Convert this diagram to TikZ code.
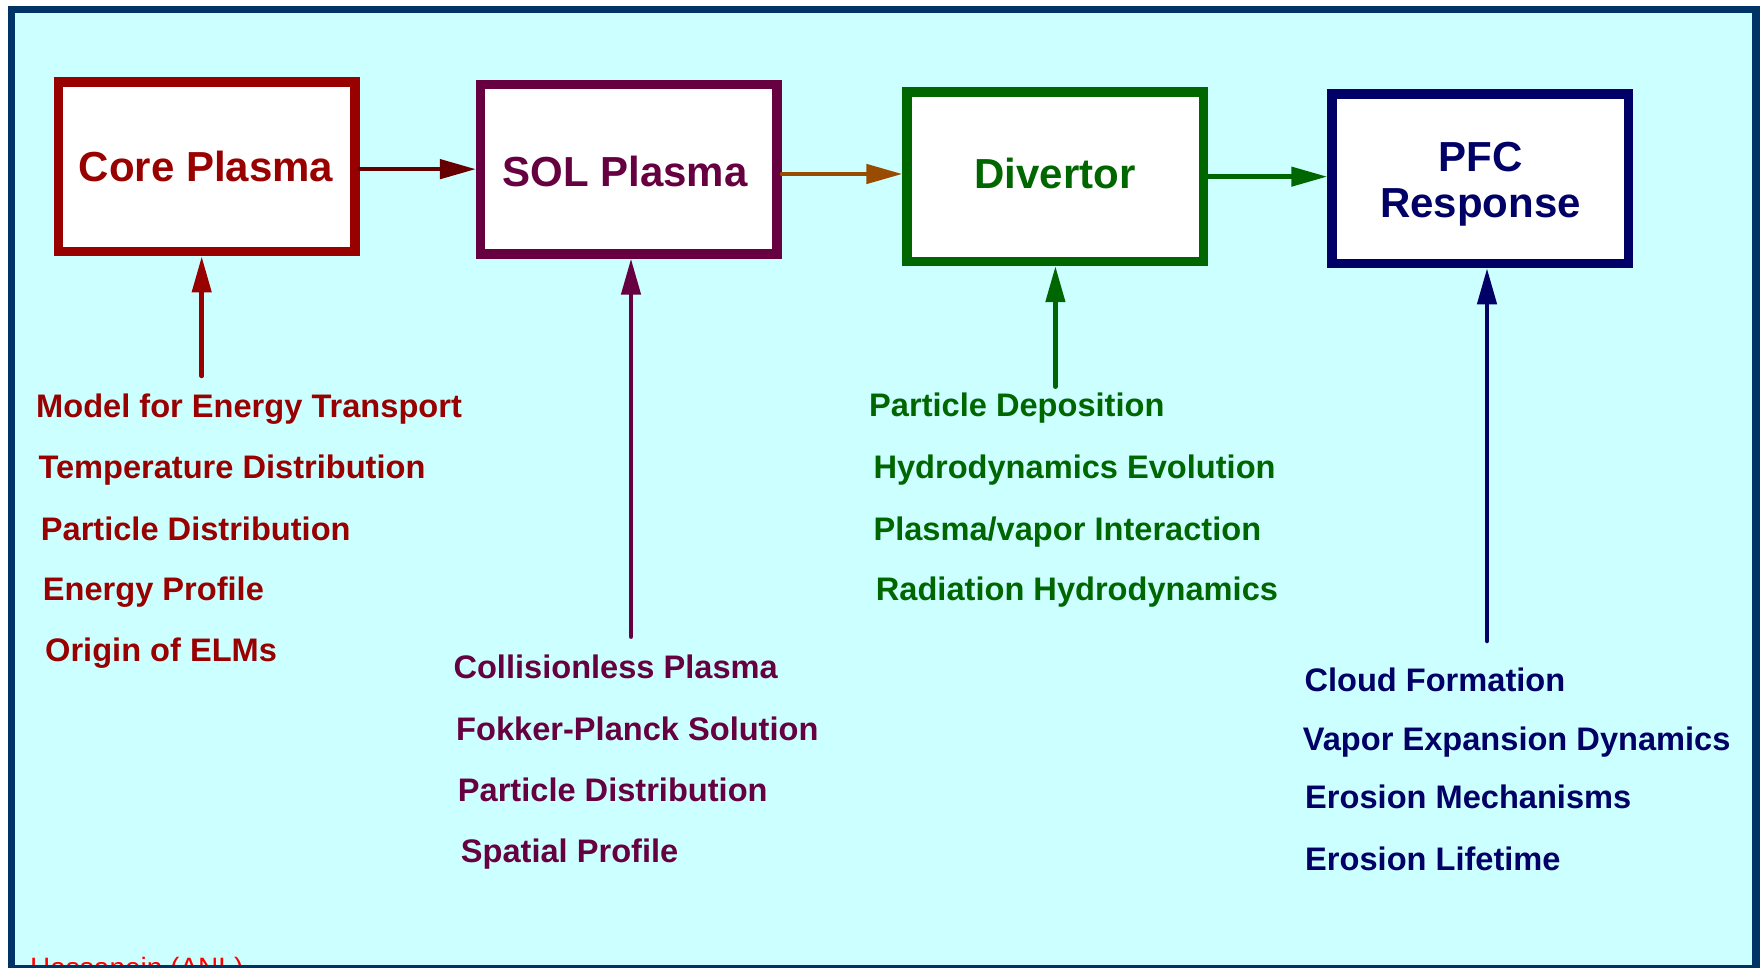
\documentclass[tikz,border=0pt]{standalone}
\usepackage{fontspec}
\setmainfont{Liberation Sans}
\usetikzlibrary{arrows.meta}
\definecolor{corec}{RGB}{153,0,0}
\definecolor{solc}{RGB}{102,0,64}
\definecolor{divc}{RGB}{0,102,0}
\definecolor{pfcc}{RGB}{0,0,102}
\definecolor{framec}{RGB}{0,51,102}
\definecolor{bgc}{RGB}{204,255,255}
\definecolor{arrone}{RGB}{102,0,0}
\definecolor{arrtwo}{RGB}{153,76,0}
\begin{document}
\begin{tikzpicture}[x=1pt,y=-1pt,
  box/.style={draw, line width=9.5pt, fill=white, minimum width=296.5pt, minimum height=169.5pt, inner sep=0pt},
  title/.style={font=\bfseries\fontsize{42}{46.3}\selectfont, anchor=base, inner sep=0pt, align=center},
  item/.style={font=\bfseries\fontsize{32.6}{36}\selectfont, anchor=base west, inner sep=0pt},
  arr/.style={line width=4.5pt, line cap=round, -{Triangle[length=36pt,width=19pt]}}]
\useasboundingbox (0,0) rectangle (1761,968);
\begin{scope}
\clip (0,0) rectangle (1761,968);
\fill[white] (0,0) rectangle (1761,968);
\fill[bgc] (11.5,9.5) rectangle (1756,969);
\node[font=\fontsize{28}{32}\selectfont, text=red, anchor=base west, inner sep=0pt] (credit) at (30,977) {Hassanein (ANL)};
\draw[framec, line width=7.6pt] (11.5,9.5) rectangle (1756,969);
\end{scope}

% boxes
\node[box, draw=corec] (core) at (206.65,167) {};
\node[box, draw=solc] (sol) at (628.95,169.15) {};
\node[box, draw=divc] (div) at (1055.4,176.65) {};
\node[box, draw=pfcc] (pfc) at (1480.25,178.8) {};

\node[title, text=corec] (coreT) at (206,182) {Core Plasma};
\node[title, text=solc] (solT) at (625,186.7) {SOL Plasma};
\node[title, text=divc] (divT) at (1055,188.3) {Divertor};
\node[title, text=pfcc] (pfcT) at (1480.5,218) {PFC\\Response};

% horizontal arrows
\draw[arr, arrone] (core.east |- sol.west) -- (sol.west);
\draw[arr, arrtwo] ([yshift=-4.85pt]sol.east) -- ([yshift=-4.85pt]sol.east -| div.west);
\draw[arr, divc] (div.east) -- (div.east -| pfc.west);

% inputs
\coordinate (coreIn) at (201.7,376);
\coordinate (solIn) at (631,636.7);
\coordinate (divIn) at (1055.4,386.7);
\coordinate (pfcIn) at (1487,641);
\draw[arr, corec] (coreIn) -- (coreIn |- core.south);
\draw[arr, solc] (solIn) -- (solIn |- sol.south);
\draw[arr, divc] (divIn) -- (divIn |- div.south);
\draw[arr, pfcc] (pfcIn) -- (pfcIn |- pfc.south);

% core list
\begin{scope}[every node/.style={item, text=corec}]
\node (c1) at (36,417.3) {Model for Energy Transport};
\node (c2) at (38.3,478.3) {Temperature Distribution};
\node (c3) at (40.7,540) {Particle Distribution};
\node (c4) at (42.7,600.7) {Energy Profile};
\node (c5) at (45,661.7) {Origin of ELMs};
\end{scope}
% sol list
\begin{scope}[every node/.style={item, text=solc}]
\node (s1) at (453.3,678.3) {Collisionless Plasma};
\node (s2) at (456,740) {Fokker-Planck Solution};
\node (s3) at (457.7,801) {Particle Distribution};
\node (s4) at (460.7,862.3) {Spatial Profile};
\end{scope}
% divertor list
\begin{scope}[every node/.style={item, text=divc}]
\node (d1) at (869,416.7) {Particle Deposition};
\node (d2) at (873.3,478.3) {Hydrodynamics Evolution};
\node (d3) at (873.3,540) {Plasma/vapor Interaction};
\node (d4) at (875.7,600.7) {Radiation Hydrodynamics};
\end{scope}
% pfc list
\begin{scope}[every node/.style={item, text=pfcc}]
\node (p1) at (1304.3,691) {Cloud Formation};
\node (p2) at (1302.7,750) {Vapor Expansion Dynamics};
\node (p3) at (1305,808.3) {Erosion Mechanisms};
\node (p4) at (1305,870) {Erosion Lifetime};
\end{scope}
\end{tikzpicture}
\end{document}
